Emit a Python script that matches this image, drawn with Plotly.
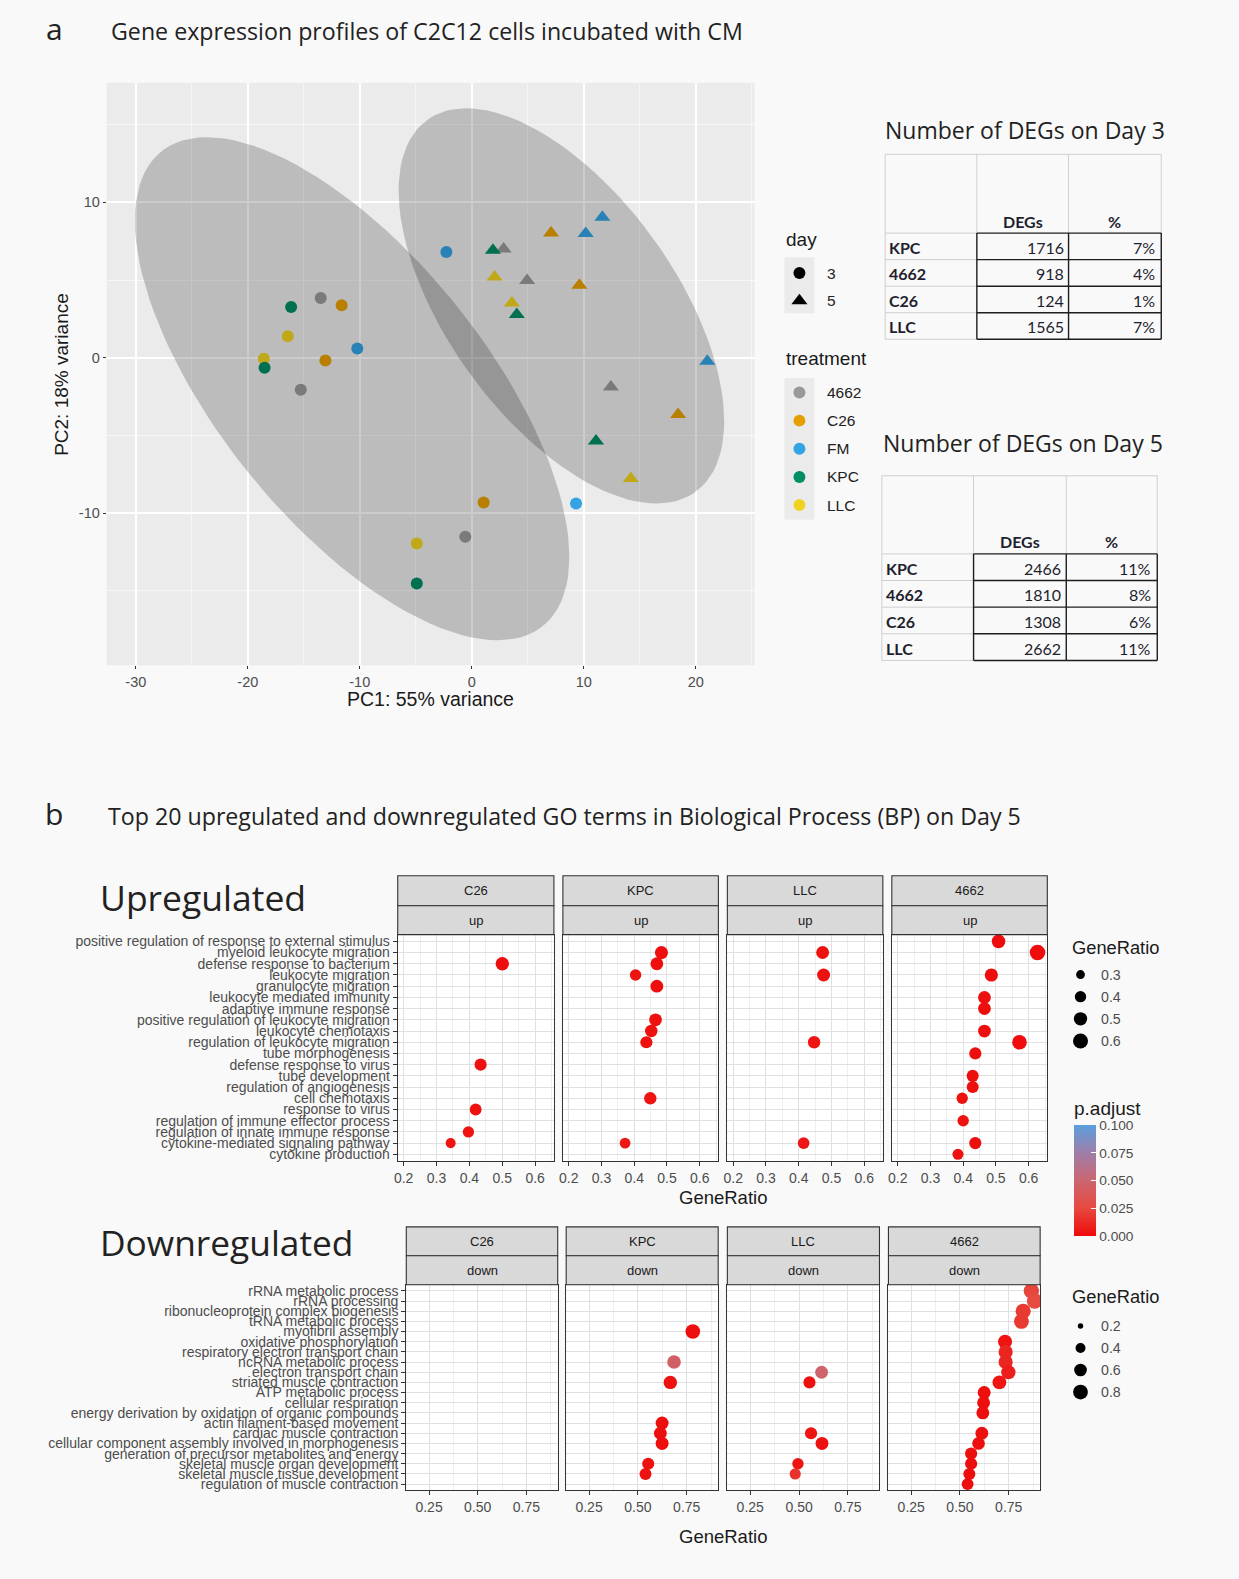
import numpy as np
import plotly.graph_objects as go

W, H = 1239, 1579
PAGE_BG = "#F9F9F9"
GG_FONT = "Liberation Sans, Arial, sans-serif"
HEAD_FONT = "Open Sans, sans-serif"
TABLE_FONT = "Lato, sans-serif"
TICK_GREY = "#4D4D4D"


def fx(px):
    return px / W


def fy(py):
    return 1 - py / H


# ---------------- panel a: PCA scores ----------------
treatments = ["4662", "C26", "FM", "KPC", "LLC"]
treatment_colors = ["#999999", "#E69F00", "#33A3E3", "#008C64", "#F0D320"]

day3_treatment = ["4662", "C26", "KPC", "LLC", "FM", "LLC", "KPC", "C26", "4662",
                  "FM", "C26", "FM", "4662", "LLC", "KPC"]
day3_pc1 = [-13.49, -11.62, -16.13, -16.43, -10.22, -18.57, -18.50, -13.07, -15.27,
            -2.27, 1.06, 9.31, -0.58, -4.91, -4.91]
day3_pc2 = [3.85, 3.38, 3.27, 1.39, 0.60, -0.07, -0.65, -0.17, -2.06,
            6.81, -9.32, -9.39, -11.53, -11.96, -14.53]

day5_treatment = ["FM", "C26", "FM", "4662", "KPC", "LLC", "4662", "C26", "LLC", "KPC",
                  "FM", "4662", "C26", "KPC", "LLC"]
day5_pc1 = [11.66, 7.08, 10.17, 2.84, 1.89, 2.04, 4.94, 9.61, 3.58, 4.02,
            21.03, 12.42, 18.42, 11.09, 14.20]
day5_pc2 = [9.04, 8.03, 7.99, 7.00, 6.92, 5.20, 4.97, 4.67, 3.53, 2.78,
            -0.22, -1.89, -3.65, -5.36, -7.78]

pc1_ticks = [-30, -20, -10, 0, 10, 20]
pc2_ticks = [-10, 0, 10]

# ---------------- DEG tables ----------------
deg_groups = ["KPC", "4662", "C26", "LLC"]
deg_day3 = [1716, 918, 124, 1565]
pct_day3 = [7, 4, 1, 7]
deg_day5 = [2466, 1810, 1308, 2662]
pct_day5 = [11, 8, 6, 11]

# ---------------- panel b: GO BP dot plots ----------------
facets = ["C26", "KPC", "LLC", "4662"]

up_terms = [
    "positive regulation of response to external stimulus",
    "myeloid leukocyte migration",
    "defense response to bacterium",
    "leukocyte migration",
    "granulocyte migration",
    "leukocyte mediated immunity",
    "adaptive immune response",
    "positive regulation of leukocyte migration",
    "leukocyte chemotaxis",
    "regulation of leukocyte migration",
    "tube morphogenesis",
    "defense response to virus",
    "tube development",
    "regulation of angiogenesis",
    "cell chemotaxis",
    "response to virus",
    "regulation of immune effector process",
    "regulation of innate immune response",
    "cytokine-mediated signaling pathway",
    "cytokine production",
]
_ = None
up_C26 = [_, _, 0.500, _, _, _, _, _, _, _, _, 0.434, _, _, _, 0.419, _, 0.397, 0.343, _]
up_KPC = [_, 0.483, 0.469, 0.404, 0.469, _, _, 0.465, 0.452, 0.437, _, _, _, _, 0.449, _, _, _, 0.372, _]
up_LLC = [_, 0.473, _, 0.476, _, _, _, _, _, 0.447, _, _, _, _, _, _, _, _, 0.415, _]
up_4662 = [0.508, 0.627, _, 0.486, _, 0.465, 0.465, _, 0.465, 0.572, 0.437, _, 0.429, 0.429, 0.397, _, 0.400, _, 0.437, 0.384]

up_C26_padj = [_, _, 0.002, _, _, _, _, _, _, _, _, 0.003, _, _, _, 0.003, _, 0.004, 0.004, _]
up_KPC_padj = [_, 0.002, 0.002, 0.004, 0.002, _, _, 0.003, 0.003, 0.003, _, _, _, _, 0.004, _, _, _, 0.005, _]
up_LLC_padj = [_, 0.003, _, 0.003, _, _, _, _, _, 0.004, _, _, _, _, _, _, _, _, 0.005, _]
up_4662_padj = [0.001, 0.001, _, 0.001, _, 0.002, 0.002, _, 0.002, 0.001, 0.002, _, 0.002, 0.002, 0.003, _, 0.003, _, 0.002, 0.003]

down_terms = [
    "rRNA metabolic process",
    "rRNA processing",
    "ribonucleoprotein complex biogenesis",
    "tRNA metabolic process",
    "myofibril assembly",
    "oxidative phosphorylation",
    "respiratory electron transport chain",
    "ncRNA metabolic process",
    "electron transport chain",
    "striated muscle contraction",
    "ATP metabolic process",
    "cellular respiration",
    "energy derivation by oxidation of organic compounds",
    "actin filament-based movement",
    "cardiac muscle contraction",
    "cellular component assembly involved in morphogenesis",
    "generation of precursor metabolites and energy",
    "skeletal muscle organ development",
    "skeletal muscle tissue development",
    "regulation of muscle contraction",
]
down_C26 = [_] * 20
down_KPC = [_, _, _, _, 0.781, _, _, 0.685, _, 0.666, _, _, _, 0.624, 0.615, 0.624, _, 0.553, 0.539, _]
down_LLC = [_, _, _, _, _, _, _, _, 0.615, 0.553, _, _, _, _, 0.561, 0.617, _, 0.494, 0.480, _]
down_4662 = [0.866, 0.883, 0.824, 0.815, _, 0.731, 0.734, 0.734, 0.748, 0.702, 0.624, 0.621, 0.617, _, 0.612, 0.595, 0.557, 0.557, 0.548, 0.539]

down_C26_padj = [_] * 20
down_KPC_padj = [_, _, _, _, 0.002, _, _, 0.045, _, 0.003, _, _, _, 0.002, 0.002, 0.002, _, 0.003, 0.003, _]
down_LLC_padj = [_, _, _, _, _, _, _, _, 0.048, 0.003, _, _, _, _, 0.004, 0.003, _, 0.004, 0.016, _]
down_4662_padj = [0.024, 0.026, 0.019, 0.019, _, 0.004, 0.011, 0.011, 0.008, 0.004, 0.002, 0.002, 0.002, _, 0.002, 0.002, 0.002, 0.002, 0.002, 0.002]

up_size_breaks = [0.3, 0.4, 0.5, 0.6]
down_size_breaks = [0.2, 0.4, 0.6, 0.8]
padj_breaks = [0.0, 0.025, 0.05, 0.075, 0.1]

UP_SIZE_LIMITS = (0.20, 0.635)
DOWN_SIZE_LIMITS = (0.165, 0.885)
PADJ_SCALE = [[0.0, "#EE0A0A"], [0.25, "#E7493F"], [0.5, "#CC6670"],
              [0.75, "#9E7EA8"], [1.0, "#5B9FDE"]]


def dot_size(v, limits):
    lo, hi = limits
    return 2.6 * (1.0 + 5.0 * np.sqrt((np.asarray(v, float) - lo) / (hi - lo)))


# ---------------- robust t ellipse (as in stat_ellipse) ----------------
def cov_trob(pts, nu=5, maxit=25, tol=0.01):
    x = np.asarray(pts, float)
    n, p = x.shape
    wt = np.ones(n)
    loc = x.mean(axis=0)
    w = np.sqrt(wt)
    X = x - loc
    for _i in range(maxit):
        w0 = w
        X = x - loc
        A = np.sqrt(w / w.sum())[:, None] * X
        _u, d, vt = np.linalg.svd(A, full_matrices=False)
        wX = X @ vt.T @ np.diag(1.0 / d)
        Q = (wX ** 2).sum(axis=1)
        w = wt * (nu + p) / (nu + Q)
        loc = (w[:, None] * x).sum(axis=0) / w.sum()
        if np.all(np.abs(w - w0) < tol):
            break
    sw = np.sqrt(w)[:, None] * X
    cov = sw.T @ sw / wt.sum()
    return loc, cov


def t_ellipse(xs, ys, level=0.95, segments=120):
    pts = np.column_stack([xs, ys])
    loc, cov = cov_trob(pts)
    dfn, dfd = 2, len(pts) - 1
    fq = dfd / 2.0 * ((1 - level) ** (-2.0 / dfd) - 1)  # F(2, dfd) quantile
    radius = np.sqrt(dfn * fq)
    ang = np.linspace(0, 2 * np.pi, segments + 1)
    circle = np.column_stack([np.cos(ang), np.sin(ang)])
    ell = loc + radius * circle @ np.linalg.cholesky(cov).T
    return ell[:, 0], ell[:, 1]


shapes = []
annotations = []


def text(x, y, s, size, family=GG_FONT, color="#1A1A1A", xanchor="left",
         yanchor="middle", angle=0):
    annotations.append(dict(x=fx(x), y=fy(y), xref="paper", yref="paper", text=s,
                            showarrow=False, textangle=angle, xanchor=xanchor,
                            yanchor=yanchor, font=dict(family=family, size=size, color=color)))


def line(x0, y0, x1, y1, color, width):
    shapes.append(dict(type="line", xref="paper", yref="paper", x0=fx(x0), y0=fy(y0),
                       x1=fx(x1), y1=fy(y1), line=dict(color=color, width=width)))


def rect(x0, y0, x1, y1, fill, line_color=None, width=0):
    shapes.append(dict(type="rect", xref="paper", yref="paper", x0=fx(x0), y0=fy(y1),
                       x1=fx(x1), y1=fy(y0), fillcolor=fill,
                       line=dict(color=line_color or fill, width=width)))


def disc(cx, cy, d, color):
    shapes.append(dict(type="circle", xref="paper", yref="paper",
                       x0=fx(cx - d / 2), x1=fx(cx + d / 2), y0=fy(cy + d / 2), y1=fy(cy - d / 2),
                       fillcolor=color, line=dict(width=0)))


def triangle(cx, cy, size, color):
    r = size / 2
    pts = [(cx - 1.155 * r, cy + 0.5 * r), (cx + 1.155 * r, cy + 0.5 * r), (cx, cy - r)]
    path = "M " + " L ".join(f"{fx(a):.5f},{fy(b):.5f}" for a, b in pts) + " Z"
    shapes.append(dict(type="path", xref="paper", yref="paper", path=path,
                       fillcolor=color, line=dict(width=0)))


fig = go.Figure()
layout_axes = {}

# ---- PCA scatter: points first, ellipses laid over them ----
color_of = dict(zip(treatments, treatment_colors))
fig.add_trace(go.Scatter(x=day3_pc1, y=day3_pc2, mode="markers", xaxis="x", yaxis="y",
                         marker=dict(symbol="circle", size=12, line=dict(width=0),
                                     color=[color_of[t] for t in day3_treatment]),
                         hoverinfo="skip"))
fig.add_trace(go.Scatter(x=day5_pc1, y=day5_pc2, mode="markers", xaxis="x", yaxis="y",
                         marker=dict(symbol="triangle-up", size=14, line=dict(width=0),
                                     color=[color_of[t] for t in day5_treatment]),
                         hoverinfo="skip"))
for xs, ys in ((day3_pc1, day3_pc2), (day5_pc1, day5_pc2)):
    ex, ey = t_ellipse(xs, ys)
    fig.add_trace(go.Scatter(x=ex, y=ey, mode="lines", fill="toself",
                             fillcolor="rgba(0,0,0,0.2)", line=dict(width=0),
                             xaxis="x", yaxis="y", hoverinfo="skip"))

pca_axis_common = dict(
    tickmode="array", showgrid=True, gridcolor="white", gridwidth=1.6,
    minor=dict(dtick=5, tick0=0, showgrid=True, gridcolor="#F6F6F6", gridwidth=0.8),
    zeroline=False, ticks="outside", ticklen=3, tickcolor="#333333",
    tickfont=dict(family=GG_FONT, size=14.5, color=TICK_GREY), showline=False)
layout_axes["xaxis"] = dict(
    domain=[fx(103), fx(753)], range=[-32.6, 25.25], anchor="y",
    tickvals=pc1_ticks, ticktext=[f"{v:g}" for v in pc1_ticks], **pca_axis_common)
layout_axes["yaxis"] = dict(
    domain=[fy(665), fy(81)], range=[-19.8, 17.7], anchor="x",
    tickvals=pc2_ticks, ticktext=[f"{v:g}" for v in pc2_ticks], **pca_axis_common)
shapes.append(dict(type="rect", xref="x domain", yref="y domain", x0=0, x1=1, y0=0, y1=1,
                   fillcolor="#EBEBEB", line=dict(width=0), layer="below"))
text(428, 699, "PC1: 55% variance", 19.5, xanchor="center")
text(57, 373, "PC2: 18% variance", 19, angle=-90, xanchor="center")

# PCA legends
text(783, 238, "day", 19)
rect(783, 256, 813, 312, "#EBEBEB")
disc(798, 271.7, 12, "#000000")
triangle(798, 299.5, 14, "#000000")
for lab, yy in zip(["3", "5"], [271.7, 299.5]):
    text(824, yy, lab, 15.5, color="#222222")
text(783, 357, "treatment", 19)
rect(783, 377, 813, 519, "#EBEBEB")
for i, t in enumerate(treatments):
    yy = 391.5 + i * 28.2
    disc(798, yy, 12, treatment_colors[i])
    text(824, yy, t, 15.5, color="#222222")


# ---- DEG tables ----
def deg_table(title, title_x, title_y, xs, top, header_bottom, row_h, counts, pcts):
    text(title_x, title_y, title, 23, HEAD_FONT, "#222222")
    light, dark = "#CFCFCF", "#1E1E1E"
    bottom = header_bottom + row_h * len(counts)
    line(xs[0], top, xs[3], top, light, 1)
    line(xs[0], top, xs[0], bottom, light, 1)
    line(xs[0], bottom, xs[1], bottom, light, 1)
    for x in xs[1:]:
        line(x, top, x, header_bottom, light, 1)
    line(xs[0], header_bottom, xs[1], header_bottom, light, 1)
    for i in range(1, len(counts)):
        line(xs[0], header_bottom + i * row_h, xs[1], header_bottom + i * row_h, light, 1)
    for x in xs[1:]:
        line(x, header_bottom, x, bottom, dark, 1.4)
    for i in range(len(counts) + 1):
        line(xs[1], header_bottom + i * row_h, xs[3], header_bottom + i * row_h, dark, 1.4)
    text((xs[1] + xs[2]) / 2, header_bottom - 12, "<b>DEGs</b>", 16, TABLE_FONT, "#1F1F2E", "center")
    text((xs[2] + xs[3]) / 2, header_bottom - 12, "<b>%</b>", 16, TABLE_FONT, "#1F1F2E", "center")
    for i, (g, c, p) in enumerate(zip(deg_groups, counts, pcts)):
        yy = header_bottom + (i + 0.5) * row_h + 1
        text(xs[0] + 2, yy, f"<b>{g}</b>", 16, TABLE_FONT, "#1F1F2E")
        text(xs[2] - 3, yy, f"{c}", 16, TABLE_FONT, "#1F1F2E", "right")
        text(xs[3] - 4, yy, f"{p}%", 16, TABLE_FONT, "#1F1F2E", "right")


deg_table("Number of DEGs on Day 3", 882, 128, [884, 976, 1068, 1161], 152.7, 231.7, 26.6,
          deg_day3, pct_day3)
deg_table("Number of DEGs on Day 5", 880, 442, [880.7, 972.7, 1065.7, 1157], 475, 553.3, 26.7,
          deg_day5, pct_day5)

# ---- page titles ----
text(51, 27, "a", 30, HEAD_FONT, "#222222", "center")
text(105, 29, "Gene expression profiles of C2C12 cells incubated with CM", 23.2, HEAD_FONT, "#222222")
text(50, 814, "b", 30, HEAD_FONT, "#222222", "center")
text(102, 816, "Top 20 upregulated and downregulated GO terms in Biological Process (BP) on Day 5",
     23.2, HEAD_FONT, "#222222")
text(94, 897, "Upregulated", 35.5, HEAD_FONT, "#222222")
text(94, 1243, "Downregulated", 35.3, HEAD_FONT, "#222222")

# ---- dot plot facets ----
up_x_dom = [(395, 551.7), (560.7, 716.7), (725.7, 881.7), (890.7, 1046.7)]
down_x_dom = [(403.6, 555.5), (564, 716.5), (725.7, 878.3), (887.3, 1039.5)]
up_series = [(up_C26, up_C26_padj), (up_KPC, up_KPC_padj), (up_LLC, up_LLC_padj), (up_4662, up_4662_padj)]
down_series = [(down_C26, down_C26_padj), (down_KPC, down_KPC_padj), (down_LLC, down_LLC_padj),
               (down_4662, down_4662_padj)]

blocks = [
    dict(terms=up_terms, series=up_series, x_dom=up_x_dom, y_dom=(935, 1162),
         strips=(876, 906, 935), label="up", x_range=[0.182, 0.657], tick0=0.2, dtick=0.1,
         fmt=".1f", limits=UP_SIZE_LIMITS, xtitle_y=1199),
    dict(terms=down_terms, series=down_series, x_dom=down_x_dom, y_dom=(1286, 1492),
         strips=(1228, 1257, 1286), label="down", x_range=[0.133, 0.911], tick0=0.25, dtick=0.25,
         fmt=".2f", limits=DOWN_SIZE_LIMITS, xtitle_y=1538),
]

ax = 2
for b in blocks:
    for k, (facet, (ratios, padj)) in enumerate(zip(facets, b["series"])):
        xn, yn = f"x{ax}", f"y{ax}"
        keep = [i for i, v in enumerate(ratios) if v is not None]
        xv = [ratios[i] for i in keep]
        fig.add_trace(go.Scatter(
            x=xv, y=[b["terms"][i] for i in keep], xaxis=xn, yaxis=yn, mode="markers",
            marker=dict(size=dot_size(xv, b["limits"]) if xv else [], color=[padj[i] for i in keep],
                        coloraxis="coloraxis", line=dict(width=0), opacity=1),
            hoverinfo="skip"))
        x0, x1 = b["x_dom"][k]
        layout_axes[f"xaxis{ax}"] = dict(
            domain=[fx(x0), fx(x1)], range=b["x_range"], anchor=yn,
            tick0=b["tick0"], dtick=b["dtick"], tickformat=b["fmt"],
            showgrid=True, gridcolor="#E0E0E0", gridwidth=1,
            minor=dict(dtick=b["dtick"] / 2, showgrid=True, gridcolor="#EFEFEF", gridwidth=0.8),
            zeroline=False, ticks="outside", ticklen=4, tickcolor="#333333",
            tickfont=dict(family=GG_FONT, size=14, color=TICK_GREY),
            showline=True, mirror=True, linecolor="#333333", linewidth=1.2)
        layout_axes[f"yaxis{ax}"] = dict(
            domain=[fy(b["y_dom"][1]), fy(b["y_dom"][0])], anchor=xn, type="category",
            categoryorder="array", categoryarray=b["terms"], range=[19.6, -0.6],
            tickmode="array", tickvals=b["terms"], ticktext=b["terms"],
            showgrid=True, gridcolor="#E0E0E0", gridwidth=1, zeroline=False,
            ticks="outside" if k == 0 else "", ticklen=4, tickcolor="#333333",
            showticklabels=(k == 0), tickfont=dict(family=GG_FONT, size=14, color=TICK_GREY),
            showline=True, mirror=True, linecolor="#333333", linewidth=1.2)
        shapes.append(dict(type="rect", xref=f"{xn} domain", yref=f"{yn} domain",
                           x0=0, x1=1, y0=0, y1=1, fillcolor="white",
                           line=dict(width=0), layer="below"))
        s0, s1, s2 = b["strips"]
        rect(x0, s0, x1, s1, "#D9D9D9", "#333333", 1.1)
        rect(x0, s1, x1, s2, "#D9D9D9", "#333333", 1.1)
        text((x0 + x1) / 2, (s0 + s1) / 2, facet, 13, color="#1A1A1A", xanchor="center")
        text((x0 + x1) / 2, (s1 + s2) / 2, b["label"], 13, color="#1A1A1A", xanchor="center")
        ax += 1
    mid = (b["x_dom"][0][0] + b["x_dom"][-1][1]) / 2
    text(mid, b["xtitle_y"], "GeneRatio", 18.5, xanchor="center")

# ---- dot plot legends ----
text(1069, 948, "GeneRatio", 18.3)
for i, v in enumerate(up_size_breaks):
    yy = 975 + i * 22.2
    disc(1080, yy, float(dot_size(v, UP_SIZE_LIMITS)), "#000000")
    text(1099, yy, f"{v:.1f}", 14.2, color=TICK_GREY)
text(1069, 1298, "GeneRatio", 18.3)
for i, v in enumerate(down_size_breaks):
    yy = 1327.3 + i * 22.1
    disc(1080, yy, float(dot_size(v, DOWN_SIZE_LIMITS)), "#000000")
    text(1099, yy, f"{v:.1f}", 14.2, color=TICK_GREY)
text(1071, 1109, "p.adjust", 19)

fig.update_layout(
    width=W, height=H, margin=dict(l=0, r=0, t=0, b=0),
    paper_bgcolor=PAGE_BG, plot_bgcolor="rgba(0,0,0,0)", showlegend=False,
    coloraxis=dict(
        cmin=0, cmax=0.1, colorscale=PADJ_SCALE,
        colorbar=dict(x=fx(1073.3), xanchor="left", y=fy(1126), yanchor="top",
                      len=111, lenmode="pixels", thickness=22.4, thicknessmode="pixels",
                      xpad=0, ypad=0, outlinewidth=0, tickmode="array",
                      tickvals=padj_breaks, ticktext=[f"{v:.3f}" for v in padj_breaks],
                      ticks="inside", ticklen=5, tickcolor="white", tickwidth=1,
                      tickfont=dict(family=GG_FONT, size=13.7, color=TICK_GREY))),
    shapes=shapes, annotations=annotations, **layout_axes)

fig.write_html("out.html")
